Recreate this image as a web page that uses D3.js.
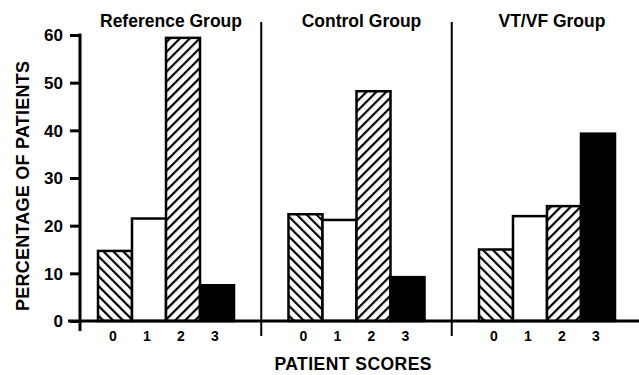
<!DOCTYPE html>
<html><head><meta charset="utf-8">
<script src="https://cdn.jsdelivr.net/npm/d3@7"></script>
<style>body{margin:0;background:#fff}svg{display:block}text{font-family:"Liberation Sans",Arial,Helvetica,sans-serif;font-weight:bold;fill:#000}</style>
</head><body>
<script>
const groups = ["Reference Group", "Control Group", "VT/VF Group"];
const scores = ["0", "1", "2", "3"];
const referenceValues = [14.7, 21.5, 59.4, 7.5];
const controlValues = [22.4, 21.2, 48.2, 9.2];
const vtvfValues = [15.0, 22.0, 24.1, 39.3];
const yTicks = [0, 10, 20, 30, 40, 50, 60];
const seriesValues = [referenceValues, controlValues, vtvfValues];

const W = 639, H = 375;
const svg = d3.select("body").append("svg").attr("width", W).attr("height", H);

const defs = svg.append("defs");
function hatch(id, forward) {
  const p = defs.append("pattern").attr("id", id).attr("patternUnits", "userSpaceOnUse")
    .attr("width", 7).attr("height", 7)
    .attr("patternTransform", `rotate(${forward ? 45 : -45})`);
  p.append("rect").attr("width", 7).attr("height", 7).attr("fill", "#fff");
  p.append("line").attr("x1", 0).attr("y1", 0).attr("x2", 0).attr("y2", 7)
    .attr("stroke", "#000").attr("stroke-width", 4.4);
}
hatch("back", false);
hatch("fwd", true);
const fills = ["url(#back)", "#fff", "url(#fwd)", "#000"];

const y = d3.scaleLinear().domain([0, 60]).range([321, 35]);
const gx = d3.scaleBand().domain(groups).range([98, 615]).paddingInner(0.286).paddingOuter(0);
const cx = d3.scaleBand().domain(scores).range([0, gx.bandwidth()]).padding(0);

// y axis
const yAxis = d3.axisLeft(y).tickValues(yTicks).tickSize(10).tickPadding(7);
const ya = svg.append("g").attr("transform", "translate(80,0)").call(yAxis);
ya.select(".domain").remove();
ya.selectAll(".tick line").attr("stroke", "#000").attr("stroke-width", 3);
ya.selectAll(".tick text").style("font-size", "17px").attr("font-family", null).attr("fill", "#000").attr("dy", "0.35em");
svg.append("line").attr("x1", 80).attr("x2", 80).attr("y1", y(60) - 1.5).attr("y2", 331)
  .attr("stroke", "#000").attr("stroke-width", 3);

// groups
groups.forEach((g, gi) => {
  const gg = svg.append("g").attr("transform", `translate(${gx(g)},0)`);
  gg.selectAll("rect.bar").data(seriesValues[gi]).join("rect").attr("class", "bar")
    .attr("x", (d, i) => cx(scores[i]))
    .attr("y", d => y(d))
    .attr("width", cx.bandwidth())
    .attr("height", d => y(0) - y(d))
    .attr("fill", (d, i) => fills[i])
    .attr("stroke", "#000").attr("stroke-width", 2.5);
  const xa = d3.axisBottom(cx).tickSize(0).tickPadding(9);
  const xg = gg.append("g").attr("transform", `translate(-2,${y(0) + 1})`).call(xa);
  xg.select(".domain").remove();
  xg.selectAll(".tick text").style("font-size", "14px").attr("font-family", null).attr("fill", "#000");
  gg.append("text").attr("x", gx.bandwidth() / 2 + 5).attr("y", 27)
    .attr("text-anchor", "middle").style("font-size", "17.5px").text(g);
});

// dividers
const step = gx.step(), gap = step - gx.bandwidth();
[groups[1], groups[2]].forEach(g => {
  const xd = gx(g) - gap / 2;
  svg.append("line").attr("x1", xd).attr("x2", xd).attr("y1", 22).attr("y2", 336)
    .attr("stroke", "#000").attr("stroke-width", 2);
});

// baseline
svg.append("line").attr("x1", 68).attr("x2", W).attr("y1", y(0)).attr("y2", y(0))
  .attr("stroke", "#000").attr("stroke-width", 3);

// axis titles
svg.append("text").attr("transform", "translate(28.5,186) rotate(-90)").attr("text-anchor", "middle")
  .style("font-size", "18px").attr("textLength", 250).attr("lengthAdjust", "spacing")
  .text("PERCENTAGE OF PATIENTS");
svg.append("text").attr("x", 353).attr("y", 370).attr("text-anchor", "middle")
  .style("font-size", "17.5px").attr("textLength", 157).attr("lengthAdjust", "spacing")
  .text("PATIENT SCORES");
</script>
</body></html>
